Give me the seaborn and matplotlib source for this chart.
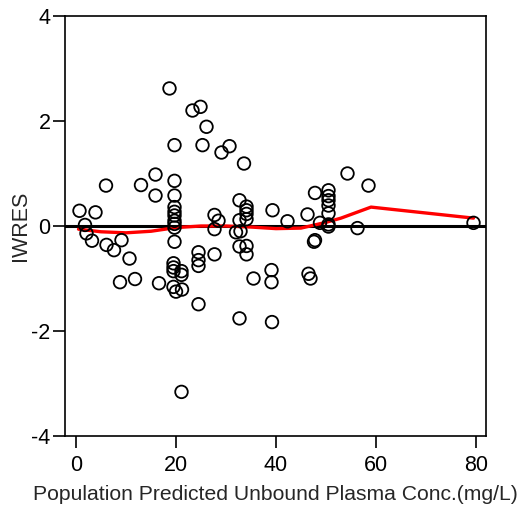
import matplotlib
matplotlib.use("Agg")
import matplotlib.pyplot as plt
import seaborn as sns
import numpy as np

# Observed points: population predicted unbound conc (x) vs IWRES (y)
conc = [0.7, 3.9, 1.8, 2.1, 3.2, 6.0, 6.1, 7.6, 9.1, 10.7, 8.8, 11.8, 13.0,
        15.9, 15.9, 16.6, 18.7,
        19.7, 19.7, 19.7, 19.7, 19.7, 19.7, 19.7, 19.7, 19.7, 19.7,
        19.5, 19.5, 19.5, 21.1, 21.1, 19.5, 20.0, 21.2, 21.1,
        23.3, 24.9, 26.1, 25.3, 24.5, 24.5, 24.5, 24.5,
        27.7, 28.5, 27.7, 27.7, 29.1, 30.7, 33.6,
        32.7, 32.7, 32.0, 32.9, 32.7, 32.7,
        34.1, 34.1, 34.1, 34.1, 34.1, 34.1, 35.5,
        39.3, 39.1, 39.1, 39.2, 42.3,
        46.3, 46.5, 46.9, 47.8, 47.8, 47.6, 48.8,
        50.5, 50.5, 50.5, 50.5, 50.5, 50.5, 50.5,
        54.3, 56.3, 58.5, 79.5]
iwres = [0.29, 0.26, 0.02, -0.14, -0.28, 0.77, -0.36, -0.46, -0.27, -0.62, -1.07, -1.01, 0.78,
         0.98, 0.58, -1.09, 2.62,
         1.54, 0.86, 0.58, 0.36, 0.27, 0.20, 0.10, 0.04, -0.03, -0.30,
         -0.71, -0.79, -0.86, -0.86, -0.93, -1.16, -1.25, -1.21, -3.16,
         2.20, 2.27, 1.89, 1.54, -0.50, -0.65, -0.76, -1.49,
         0.21, 0.10, -0.06, -0.54, 1.40, 1.52, 1.19,
         0.49, 0.11, -0.12, -0.10, -0.39, -1.76,
         0.37, 0.30, 0.23, 0.13, -0.38, -0.54, -1.00,
         0.30, -0.84, -1.07, -1.83, 0.09,
         0.22, -0.91, -1.00, 0.63, -0.27, -0.30, 0.06,
         0.68, 0.57, 0.49, 0.39, 0.24, 0.03, -0.01,
         1.00, -0.04, 0.77, 0.06]

# Smooth (loess) trend line
smooth_x = [0.5, 5, 10, 15, 20, 25, 30, 35, 40, 45, 50, 53, 59, 79.5]
smooth_y = [-0.06, -0.11, -0.13, -0.10, -0.03, 0.0, 0.0, -0.02, -0.05, -0.04, 0.07, 0.15, 0.36, 0.15]

x_ticks = [0, 20, 40, 60, 80]
y_ticks = [-4, -2, 0, 2, 4]

sns.set_style("white")
plt.rcParams['font.family'] = ['Liberation Sans', 'DejaVu Sans']

fig = plt.figure(figsize=(5.26, 5.14), dpi=100)
ax = fig.add_axes([65/526, 1-436/514, (486-65)/526, (436-16)/514])

ax.axhline(0, color='black', lw=2.2, zorder=2)
sns.lineplot(x=smooth_x, y=smooth_y, color='red', lw=2.4, ax=ax, zorder=3, sort=False)
sns.scatterplot(x=conc, y=iwres, ax=ax, marker='o', s=82,
                facecolors='none', edgecolor='black', linewidth=1.3, zorder=4)

ax.set_xlim(-2.2, 82)
ax.set_ylim(-4, 4)
ax.set_xticks(x_ticks)
ax.set_yticks(y_ticks)
ax.set_xticklabels([str(v) for v in x_ticks])
ax.set_yticklabels([str(v) for v in y_ticks])
ax.tick_params(axis='both', direction='out', length=8.5, width=1.2, colors='black',
               labelsize=15.5, left=True, bottom=True)
ax.tick_params(axis='x', pad=5)
ax.tick_params(axis='y', pad=2)
for sp in ax.spines.values():
    sp.set_color('black')
    sp.set_linewidth(1.2)

ax.set_xlabel("Population Predicted Unbound Plasma Conc.(mg/L)", fontsize=15.2, labelpad=7)
ax.set_ylabel("IWRES", fontsize=15.5, labelpad=0)

fig.savefig("out.png", dpi=100)
